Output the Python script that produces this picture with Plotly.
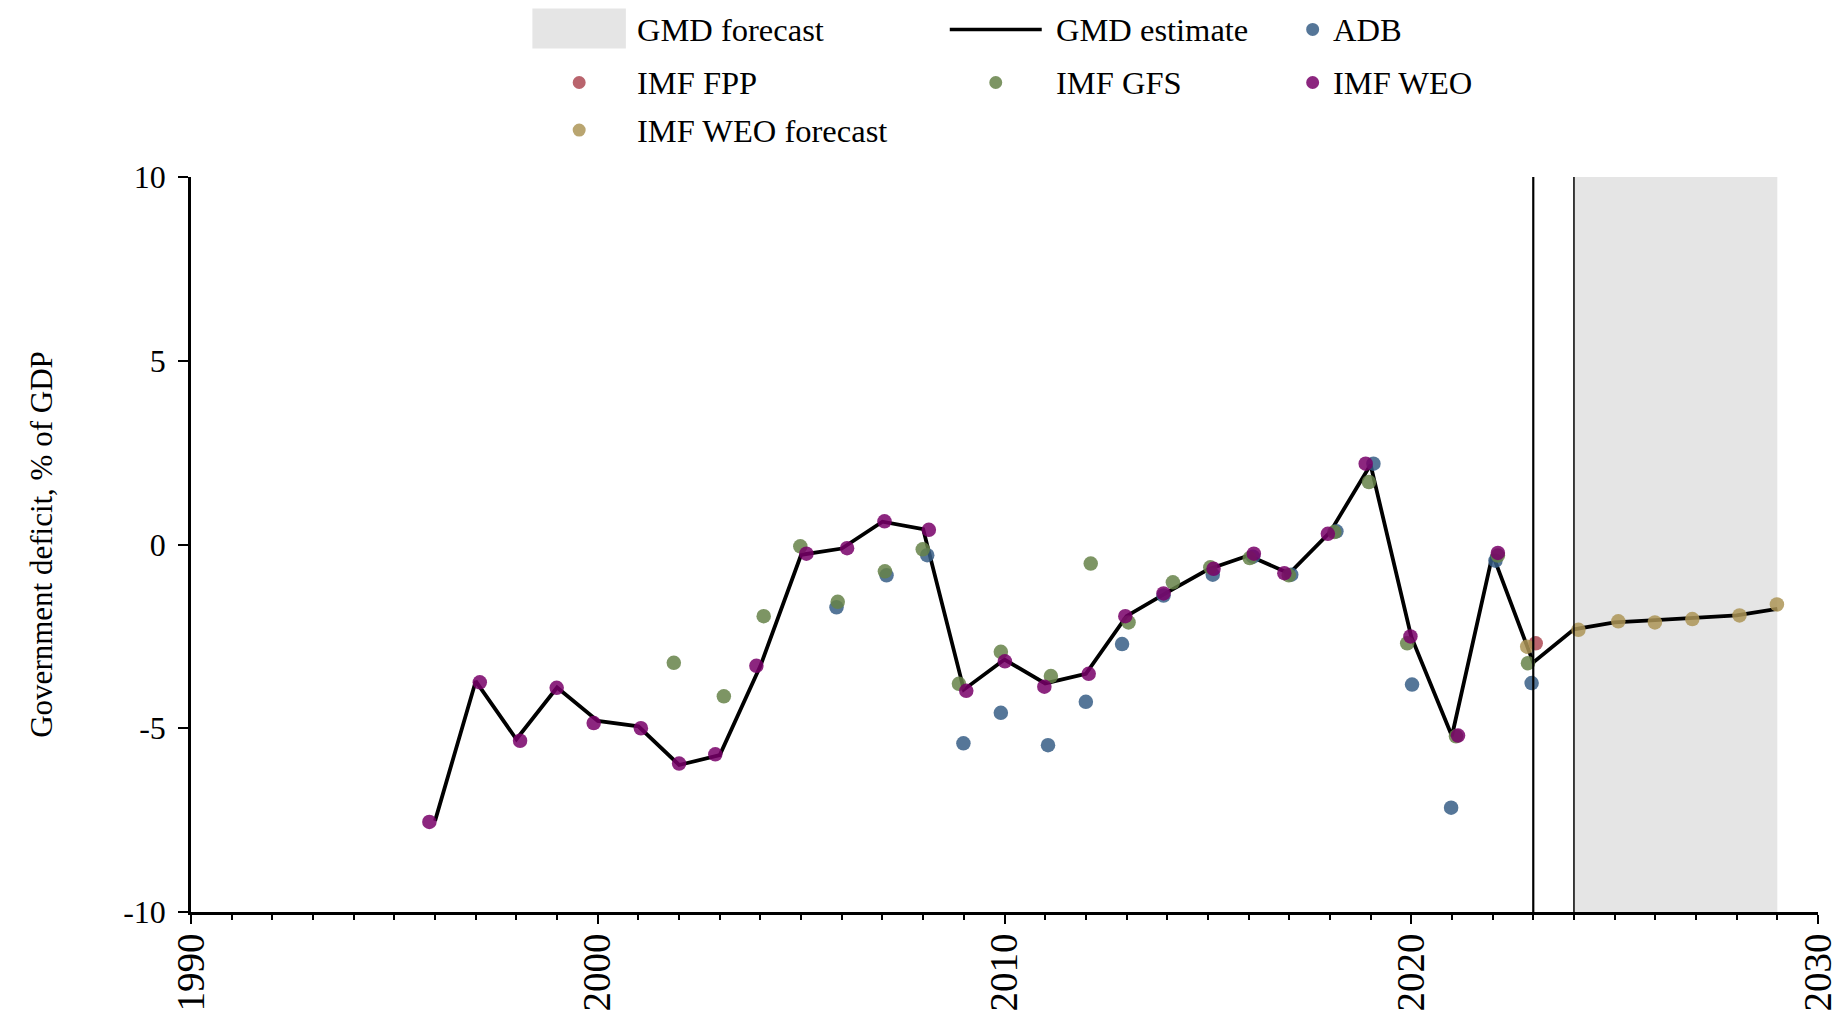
import plotly.graph_objects as go

# ---------------- data ----------------
est_years = list(range(1996, 2030))
gmd_estimate = [-7.52, -3.72, -5.30, -3.89, -4.80, -4.95, -6.00, -5.73, -3.30, -0.28,
                -0.11, 0.62, 0.42, -3.95, -3.13, -3.78, -3.52, -1.95, -1.30, -0.68,
                -0.30, -0.79, 0.33, 2.17, -2.51, -5.21, -0.27, -3.21, -2.31, -2.12,
                -2.06, -2.00, -1.93, -1.75]

last_actual_year = 2023
forecast_start = 2024
forecast_end = 2029

adb_x = [2005.87, 2007.10, 2008.10, 2008.99, 2009.91, 2011.07, 2012.00, 2012.89, 2013.91,
         2015.12, 2016.11, 2017.05, 2018.16, 2019.07, 2020.02, 2020.98, 2022.07, 2022.96]
adb_y = [-1.71, -0.84, -0.29, -5.41, -4.58, -5.46, -4.28, -2.71, -1.39,
         -0.82, -0.33, -0.82, 0.36, 2.20, -3.81, -7.16, -0.44, -3.77]

fpp_x = [2023.06]
fpp_y = [-2.69]

gfs_x = [2001.87, 2003.10, 2004.08, 2004.98, 2005.90, 2007.06, 2007.99, 2008.88, 2009.91,
         2011.14, 2012.12, 2013.05, 2014.14, 2015.06, 2016.03, 2016.99, 2018.11, 2018.96,
         2019.90, 2021.10, 2022.13, 2022.87]
gfs_y = [-3.22, -4.13, -1.95, -0.05, -1.56, -0.73, -0.13, -3.79, -2.92,
         -3.58, -0.52, -2.12, -1.03, -0.62, -0.37, -0.84, 0.34, 1.70,
         -2.69, -5.22, -0.30, -3.23]

weo_x = [1995.86, 1997.10, 1998.09, 1998.99, 1999.90, 2001.06, 2002.00, 2002.89, 2003.90,
         2005.13, 2006.13, 2007.05, 2008.14, 2009.06, 2010.01, 2010.98, 2012.07, 2012.97,
         2013.91, 2015.14, 2016.13, 2016.88, 2017.95, 2018.88, 2019.98, 2021.15, 2022.13]
weo_y = [-7.55, -3.75, -5.34, -3.90, -4.86, -5.00, -5.96, -5.71, -3.30,
         -0.25, -0.10, 0.63, 0.40, -3.98, -3.18, -3.87, -3.52, -1.95,
         -1.33, -0.66, -0.25, -0.78, 0.29, 2.20, -2.50, -5.20, -0.23]

weof_x = [2022.85, 2024.11, 2025.09, 2025.99, 2026.91, 2028.07, 2028.99]
weof_y = [-2.78, -2.32, -2.09, -2.12, -2.03, -1.93, -1.63]

x_tick_vals = [1990, 2000, 2010, 2020, 2030]
x_tick_labels = ["1990", "2000", "2010", "2020", "2030"]
y_tick_vals = [-10, -5, 0, 5, 10]
y_tick_labels = ["-10", "-5", "0", "5", "10"]
x_range = [1990, 2030]
y_range = [-10, 10]

series_names = ["GMD forecast", "GMD estimate", "ADB", "IMF FPP", "IMF GFS", "IMF WEO", "IMF WEO forecast"]

# ---------------- style ----------------
FONT = "Liberation Serif"
C_ADB = "rgb(55,94,134)"
C_FPP = "rgb(173,73,84)"
C_GFS = "rgb(102,131,73)"
C_WEO = "rgb(120,0,105)"
C_WEOF = "rgb(173,149,87)"
C_SHADE = "#e5e5e5"
MOP = 0.85
MSIZE = 14.5

W, H = 1842, 1017
ML, MR, MT, MB = 191, 23.5, 177.4, 105.4
PW, PH = W - ML - MR, H - MT - MB


def px(x):
    return (x - ML) / PW


def py(y):
    return (H - MB - y) / PH


fig = go.Figure()

# forecast shading
fig.add_trace(go.Scatter(
    x=[forecast_start, forecast_end, forecast_end, forecast_start, forecast_start],
    y=[y_range[0], y_range[0], y_range[1], y_range[1], y_range[0]],
    fill="toself", fillcolor=C_SHADE, line=dict(width=0), mode="lines",
    name=series_names[0], showlegend=False, hoverinfo="skip"))

fig.add_trace(go.Scatter(x=est_years, y=gmd_estimate, mode="lines",
                         line=dict(color="black", width=3.8), name=series_names[1], showlegend=False))

for name, xs, ys, col in [(series_names[2], adb_x, adb_y, C_ADB),
                          (series_names[3], fpp_x, fpp_y, C_FPP),
                          (series_names[4], gfs_x, gfs_y, C_GFS),
                          (series_names[5], weo_x, weo_y, C_WEO),
                          (series_names[6], weof_x, weof_y, C_WEOF)]:
    fig.add_trace(go.Scatter(x=xs, y=ys, mode="markers", name=name, showlegend=False,
                             marker=dict(color=col, size=MSIZE, opacity=MOP, line=dict(width=0))))

# vertical reference lines
fig.add_shape(type="line", xref="x", yref="y", x0=last_actual_year, x1=last_actual_year,
              y0=y_range[0], y1=y_range[1], line=dict(color="black", width=2.2))
fig.add_shape(type="line", xref="x", yref="y", x0=forecast_start, x1=forecast_start,
              y0=y_range[0], y1=y_range[1], line=dict(color="black", width=1.5))

# ---------------- manual legend ----------------
LEG_FONT = dict(family=FONT, size=32.5, color="black")
row_y = [31, 84, 131.5]
col1_sym, col1_txt = 579.3, 636
col2_sym, col2_txt = 996, 1055
col3_sym, col3_txt = 1313, 1332
R_DOT = 6.5


def dot(cx, cy, col):
    fig.add_shape(type="circle", xref="paper", yref="paper",
                  x0=px(cx - R_DOT), x1=px(cx + R_DOT), y0=py(cy + R_DOT), y1=py(cy - R_DOT),
                  fillcolor=col, opacity=MOP, line=dict(width=0))


def label(x, y, text):
    fig.add_annotation(xref="paper", yref="paper", x=px(x), y=py(y), text=text,
                       showarrow=False, xanchor="left", yanchor="middle", font=LEG_FONT,
                       borderpad=0)


fig.add_shape(type="rect", xref="paper", yref="paper", x0=px(532.5), x1=px(626),
              y0=py(49), y1=py(9), fillcolor=C_SHADE, line=dict(width=0))
label(col1_txt, row_y[0], series_names[0])
fig.add_shape(type="line", xref="paper", yref="paper", x0=px(950), x1=px(1042),
              y0=py(row_y[0] - 1), y1=py(row_y[0] - 1), line=dict(color="black", width=3.5))
label(col2_txt, row_y[0], series_names[1])
dot(col3_sym, row_y[0] - 1, C_ADB)
label(col3_txt, row_y[0], series_names[2])
dot(col1_sym, row_y[1] - 1, C_FPP)
label(col1_txt, row_y[1], series_names[3])
dot(col2_sym, row_y[1] - 1, C_GFS)
label(col2_txt, row_y[1], series_names[4])
dot(col3_sym, row_y[1] - 1, C_WEO)
label(col3_txt, row_y[1], series_names[5])
dot(col1_sym, row_y[2] - 1, C_WEOF)
label(col1_txt, row_y[2], series_names[6])

# ---------------- axes / layout ----------------
fig.update_xaxes(range=x_range, tickvals=x_tick_vals, ticktext=x_tick_labels, tickangle=-90,
                 showgrid=False, zeroline=False, showline=True, linecolor="black", linewidth=3,
                 ticks="outside", ticklen=9, tickwidth=2, tickcolor="black",
                 ticklabelstandoff=-6,
                 tickfont=dict(family=FONT, size=39, color="black"),
                 minor=dict(dtick=1, ticks="outside", ticklen=5, tickwidth=2, tickcolor="black"),
                 automargin=False)
fig.update_yaxes(range=y_range, tickvals=y_tick_vals, ticktext=y_tick_labels,
                 showgrid=False, zeroline=False, showline=True, linecolor="black", linewidth=2.5,
                 ticks="outside", ticklen=10, tickwidth=2, tickcolor="black",
                 ticklabelstandoff=6,
                 tickfont=dict(family=FONT, size=32, color="black"),
                 title=dict(text="Government deficit, % of GDP", standoff=62,
                            font=dict(family=FONT, size=31, color="black")),
                 automargin=False)
fig.update_layout(width=W, height=H, margin=dict(l=ML, r=MR, t=MT, b=MB, pad=0),
                  plot_bgcolor="white", paper_bgcolor="white", showlegend=False,
                  font=dict(family=FONT, color="black"))

fig.write_html("out.html", config={"displayModeBar": False},
               post_script="document.body.style.margin='0';")
